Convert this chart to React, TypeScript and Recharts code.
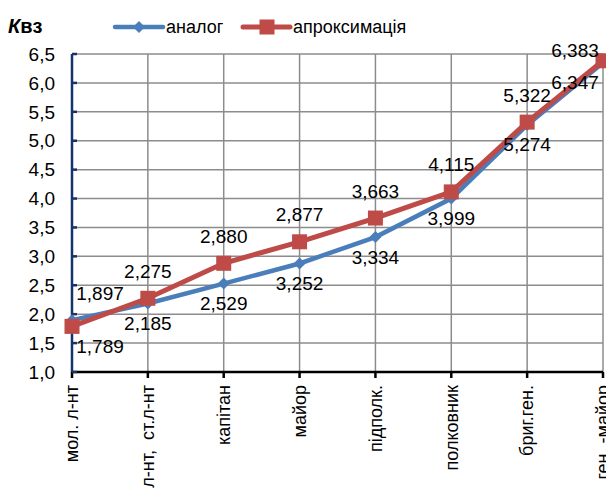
import { LineChart, Line, XAxis, YAxis, CartesianGrid, LabelList } from "recharts";

const RANKS = [
  "мол. л-нт",
  "л-нт,\u00A0 ст.л-нт",
  "капітан",
  "майор",
  "підполк.",
  "полковник",
  "бриг.ген.",
  "ген. -майор",
];
const ANALOG = [1.897, 2.185, 2.529, 2.877, 3.334, 3.999, 5.274, 6.347];
const APPROX = [1.789, 2.275, 2.88, 3.252, 3.663, 4.115, 5.322, 6.383];
const Y_TICKS = [1, 1.5, 2, 2.5, 3, 3.5, 4, 4.5, 5, 5.5, 6, 6.5];

// which labels sit above the pair of points (the rest go below)
const ANALOG_UP = [true, false, false, true, false, false, false, false];
const APPROX_UP = [false, true, true, false, true, true, true, true];

const W = 606;
const H = 491;
const X_AXIS_H = 30;
const M = { top: 54, right: 3, bottom: 119 - X_AXIS_H, left: 12 };
const PLOT_LEFT = 72;
const PLOT_RIGHT = W - M.right;
const PX_PER_UNIT = (H - M.top - M.bottom - X_AXIS_H) / 5.5;
const FONT = "'Liberation Sans', Arial, sans-serif";
const BLUE = "#4a7ebb";
const RED = "#be4b48";

const data = RANKS.map((name, i) => ({ name, analog: ANALOG[i], approx: APPROX[i] }));

const comma = (v: number, d: number) => v.toFixed(d).replace(".", ",");

function makeLabel(own: number[], other: number[], up: boolean[]) {
  return (props: any) => {
    const { x, y, index } = props;
    const diff = (other[index] - own[index]) * PX_PER_UNIT;
    let ly = up[index] ? y - Math.max(0, diff) - 27 : y + Math.max(0, -diff) + 20;
    ly = Math.max(ly, 50);
    const lx = Math.min(Math.max(x, PLOT_LEFT + 28), PLOT_RIGHT - 28);
    return (
      <text
        x={lx}
        y={ly}
        textAnchor="middle"
        dominantBaseline="central"
        fontFamily={FONT}
        fontSize={19}
        fill="#000"
      >
        {comma(own[index], 3)}
      </text>
    );
  };
}

const Diamond = (props: any) => {
  const { cx, cy } = props;
  if (cx == null || cy == null) return null;
  const r = 6;
  return <polygon points={`${cx},${cy - r} ${cx + r},${cy} ${cx},${cy + r} ${cx - r},${cy}`} fill={BLUE} />;
};

const Square = (props: any) => {
  const { cx, cy } = props;
  if (cx == null || cy == null) return null;
  return <rect x={cx - 7.5} y={cy - 7.5} width={15} height={15} fill={RED} />;
};

const XTick = (props: any) => {
  const { x, y, payload } = props;
  return (
    <text
      x={x}
      y={y}
      transform={`rotate(-90, ${x}, ${y})`}
      textAnchor="end"
      dy="0.35em"
      fontFamily={FONT}
      fontSize={18}
      fill="#000"
    >
      {payload.value}
    </text>
  );
};

export default function App() {
  return (
    <div style={{ position: "absolute", left: 0, top: 0, width: W, height: H, background: "#fff" }}>
      <div
        style={{
          position: "absolute",
          left: 8,
          top: 14,
          fontFamily: FONT,
          fontSize: 20,
          fontWeight: "bold",
          lineHeight: "24px",
        }}
      >
        <i>К</i>вз
      </div>
      <svg style={{ position: "absolute", left: 0, top: 0 }} width={W} height={50}>
        <line x1={115} y1={27} x2={163} y2={27} stroke={BLUE} strokeWidth={4.5} strokeLinecap="round" />
        <polygon points="139,21 145,27 139,33 133,27" fill={BLUE} />
        <text x={166} y={27} dominantBaseline="central" fontFamily={FONT} fontSize={18}>
          аналог
        </text>
        <line x1={243} y1={27} x2={290} y2={27} stroke={RED} strokeWidth={5} strokeLinecap="round" />
        <rect x={259.5} y={19.5} width={15} height={15} fill={RED} />
        <text x={293} y={27} dominantBaseline="central" fontFamily={FONT} fontSize={18}>
          апроксимація
        </text>
      </svg>
      <div style={{ position: "absolute", left: 0, top: 0 }}>
        <LineChart width={W} height={H} data={data} margin={M}>
          <CartesianGrid stroke="#8c8c8c" strokeWidth={1.5} />
          <XAxis
            dataKey="name"
            interval={0}
            height={X_AXIS_H}
            stroke="#000"
            strokeWidth={2.5}
            tickSize={6}
            tickMargin={7}
            tick={<XTick />}
          />
          <YAxis
            domain={[1, 6.5]}
            ticks={Y_TICKS}
            width={60}
            stroke="#17336b"
            strokeWidth={2.5}
            tickSize={-5}
            tickMargin={22}
            tickFormatter={(v: number) => comma(v, 1)}
            tick={{ fontFamily: FONT, fontSize: 19, fill: "#000" }}
          />
          <Line
            dataKey="analog"
            stroke={BLUE}
            strokeWidth={4.5}
            dot={<Diamond />}
            isAnimationActive={false}
          >
            <LabelList content={makeLabel(ANALOG, APPROX, ANALOG_UP)} />
          </Line>
          <Line
            dataKey="approx"
            stroke={RED}
            strokeWidth={5}
            dot={<Square />}
            isAnimationActive={false}
          >
            <LabelList content={makeLabel(APPROX, ANALOG, APPROX_UP)} />
          </Line>
        </LineChart>
      </div>
    </div>
  );
}
